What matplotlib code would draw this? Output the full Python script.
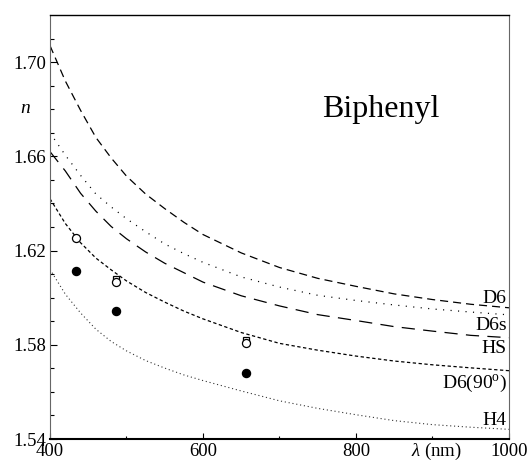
import matplotlib
matplotlib.use("Agg")
import matplotlib.pyplot as plt
from matplotlib.ticker import FixedLocator, FormatStrFormatter

plt.rcParams["font.family"] = ["Liberation Serif", "DejaVu Serif"]
plt.rcParams["mathtext.fontset"] = "custom"
plt.rcParams["mathtext.rm"] = "Liberation Serif"
plt.rcParams["mathtext.it"] = "Liberation Serif:italic"
plt.rcParams["lines.scale_dashes"] = False

# wavelength grid (nm) for the dispersion curves
wavelength = [400, 420, 440, 460, 480, 500, 525, 550, 575, 600,
              650, 700, 750, 800, 850, 900, 950, 1000]

n_D6 = [1.7070, 1.6920, 1.6795, 1.6680, 1.6593, 1.6516, 1.6440, 1.6378, 1.6320,
        1.6268, 1.6190, 1.6128, 1.6082, 1.6048, 1.6016, 1.5992, 1.5972, 1.5957]
n_D6s = [1.6700, 1.6605, 1.6519, 1.6440, 1.6385, 1.6335, 1.6280, 1.6228, 1.6187,
         1.6150, 1.6088, 1.6045, 1.6010, 1.5988, 1.5969, 1.5952, 1.5939, 1.5927]
n_HS = [1.6620, 1.6538, 1.6443, 1.6367, 1.6302, 1.6250, 1.6194, 1.6146, 1.6106,
        1.6066, 1.6008, 1.5965, 1.5928, 1.5903, 1.5877, 1.5858, 1.5840, 1.5830]
n_D6_90 = [1.6420, 1.6315, 1.6233, 1.6168, 1.6118, 1.6071, 1.6022, 1.5981, 1.5943,
           1.5910, 1.5852, 1.5806, 1.5777, 1.5752, 1.5731, 1.5715, 1.5702, 1.5690]
n_H4 = [1.6120, 1.6015, 1.5935, 1.5866, 1.5814, 1.5774, 1.5733, 1.5701, 1.5672,
        1.5648, 1.5604, 1.5562, 1.5530, 1.5503, 1.5478, 1.5461, 1.5450, 1.5441]

# measured indices at spectral lines
exp_wavelength = [434.0, 486.1, 656.3]
n_open_circle = [1.6254, 1.6066, 1.5808]
sq_wavelength = [486.1, 656.3]
n_open_square = [1.6080, 1.5819]
n_filled = [1.6112, 1.5943, 1.5682]

curve_labels = ["D6", "D6s", "HS", "D6(90$^{\\mathrm{o}}$)", "H4"]

x_major = [400, 600, 800, 1000]
x_minor = [500, 700, 900]
y_major = [1.54, 1.58, 1.62, 1.66, 1.70]
y_minor = [1.55, 1.56, 1.57, 1.59, 1.60, 1.61, 1.63, 1.64, 1.65,
           1.67, 1.68, 1.69, 1.71]

fig = plt.figure(figsize=(5.29, 4.61), dpi=100)
ax = fig.add_axes([50 / 529, 22 / 461, 459 / 529, 424 / 461])

lw = 0.9
ax.plot(wavelength, n_D6, color="black", lw=lw, dashes=(5.8, 3.6))
ax.plot(wavelength, n_D6s, color="black", lw=lw, dashes=(0.8, 4.6))
ax.plot(wavelength, n_HS, color="black", lw=lw, dashes=(9.5, 6.0))
ax.plot(wavelength, n_D6_90, color="black", lw=lw, dashes=(2.4, 1.8))
ax.plot(wavelength, n_H4, color="#333333", lw=0.8, dashes=(0.8, 2.0))

ax.plot(sq_wavelength, n_open_square, ls="none", marker="s", ms=5.0,
        mfc="white", mec="black", mew=0.9)
ax.plot(exp_wavelength, n_open_circle, ls="none", marker="o", ms=5.8,
        mfc="white", mec="black", mew=0.9)
ax.plot(exp_wavelength, n_filled, ls="none", marker="o", ms=5.8,
        mfc="black", mec="black")

label_y = [1.5976, 1.5861, 1.5764, 1.5616, 1.5459]
for text, yv in zip(curve_labels, label_y):
    ax.text(997, yv, text, ha="right", va="baseline", fontsize=14)

ax.text(0.593, 0.759, "Biphenyl", transform=ax.transAxes, fontsize=23,
        ha="left", va="baseline")

ax.set_xlim(400, 1000)
ax.set_ylim(1.54, 1.72)
ax.xaxis.set_major_locator(FixedLocator(x_major))
ax.xaxis.set_minor_locator(FixedLocator(x_minor))
ax.yaxis.set_major_locator(FixedLocator(y_major))
ax.yaxis.set_minor_locator(FixedLocator(y_minor))
ax.yaxis.set_major_formatter(FormatStrFormatter("%.2f"))

ax.tick_params(axis="both", which="both", direction="in", top=False, right=False,
               labelsize=13.5, pad=3)
ax.tick_params(axis="y", which="major", length=5, width=0.8)
ax.tick_params(axis="y", which="minor", length=3, width=0.8)
ax.tick_params(axis="x", which="major", length=4, width=0.8)
ax.tick_params(axis="x", which="minor", length=2, width=0.8)

ax.spines["bottom"].set_linewidth(1.5)
ax.spines["bottom"].set_color("black")
ax.spines["top"].set_linewidth(1.0)
ax.spines["top"].set_color("black")
ax.spines["left"].set_linewidth(0.8)
ax.spines["left"].set_color("#666666")
ax.spines["right"].set_linewidth(0.8)
ax.spines["right"].set_color("#666666")

ax.text(-0.055, 0.78, "n", transform=ax.transAxes, fontsize=14,
        style="italic", ha="center", va="center")
ax.annotate("$\\lambda$ (nm)", xy=(0.842, 0), xycoords="axes fraction",
            xytext=(0, -12.0), textcoords="offset points", ha="center",
            va="baseline", fontsize=13.5)

fig.savefig("out.png", dpi=100)
